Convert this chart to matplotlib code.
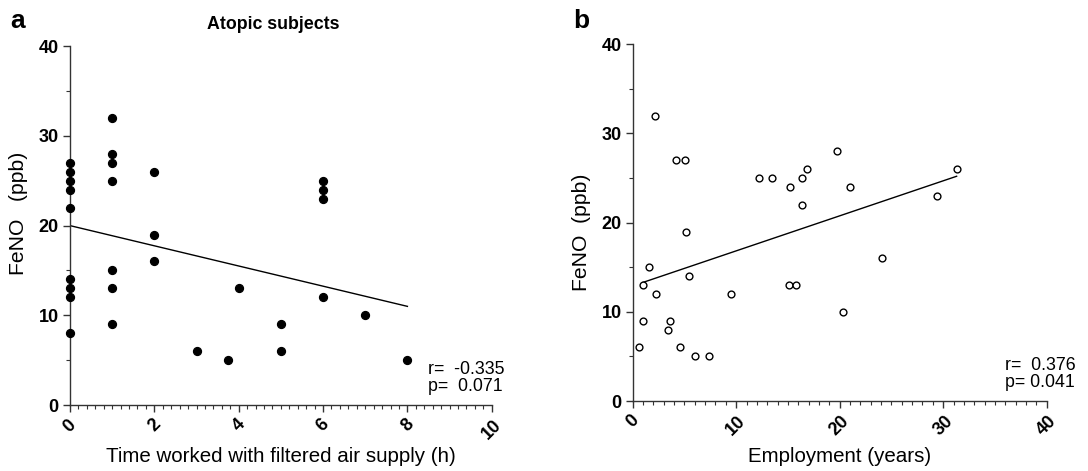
import matplotlib
matplotlib.use("Agg")
import matplotlib.pyplot as plt
from matplotlib.ticker import MultipleLocator

plt.rcParams['font.family'] = ['Liberation Sans', 'DejaVu Sans']

# Panel a: time worked with filtered air supply vs FeNO (atopic subjects)
a_hours = [0, 0, 0, 0, 0, 0, 0, 0, 0,
           1, 1, 1, 1, 1, 1, 1,
           2, 2, 2,
           3, 3.75, 4,
           5, 5,
           6, 6, 6, 6,
           7, 8]
a_feno = [27, 26, 25, 24, 22, 14, 13, 12, 8,
          32, 28, 27, 25, 15, 13, 9,
          26, 19, 16,
          6, 5, 13,
          9, 6,
          25, 24, 23, 12,
          10, 5]
a_fit_x = [0, 8]
a_fit_y = [20, 11]
a_stats = "r=  -0.335\np=  0.071"

# Panel b: employment vs FeNO
b_years = [0.6, 1.0, 1.0, 1.6, 2.2, 2.3, 3.4, 3.6, 4.2, 4.6, 5.1, 5.2, 5.4,
           6.0, 7.4, 9.5, 12.2, 13.5, 15.2, 15.1, 15.8, 16.4, 16.4, 16.8,
           19.7, 20.3, 21.0, 24.1, 29.4, 31.3]
b_feno = [6, 13, 9, 15, 32, 12, 8, 9, 27, 6, 27, 19, 14,
          5, 5, 12, 25, 25, 24, 13, 13, 25, 22, 26,
          28, 10, 24, 16, 23, 26]
b_fit_x = [1.0, 31.3]
b_fit_y = [13.3, 25.2]
b_stats = "r=  0.376\np= 0.041"

fig = plt.figure(figsize=(10.88, 4.71), dpi=100)
axa = fig.add_axes([0.0643, 0.140, 0.3877, 0.762])
axb = fig.add_axes([0.5815, 0.1486, 0.3805, 0.7574])

spine_col = '#333333'

def style(ax, xmax, xmajor, xminor):
    for s in ['top', 'right']:
        ax.spines[s].set_visible(False)
    for s in ['left', 'bottom']:
        ax.spines[s].set_color(spine_col)
        ax.spines[s].set_linewidth(1.0)
    ax.set_xlim(0, xmax)
    ax.set_ylim(0, 40)
    ax.xaxis.set_major_locator(MultipleLocator(xmajor))
    ax.xaxis.set_minor_locator(MultipleLocator(xminor))
    ax.yaxis.set_major_locator(MultipleLocator(10))
    ax.yaxis.set_minor_locator(MultipleLocator(5))
    ax.tick_params(which='major', length=5, width=1.0, color=spine_col,
                   labelsize=13, pad=3)
    ax.tick_params(which='minor', length=3, width=0.8, color=spine_col)
    for lab in ax.get_yticklabels():
        lab.set_fontweight('bold')
    for lab in ax.get_xticklabels():
        lab.set_fontweight('bold')
        lab.set_rotation(45)
        lab.set_ha('center')
    ax.patch.set_alpha(0)

style(axa, 10, 2, 0.2)
style(axb, 40, 10, 1)

axa.scatter(a_hours, a_feno, s=32, c='black', zorder=3, clip_on=False)
axa.plot(a_fit_x, a_fit_y, color='black', lw=1.0)
axa.set_xlabel("Time worked with filtered air supply (h)", fontsize=14.8)
axa.xaxis.set_label_coords(0.5, -0.117)
axa.set_ylabel("FeNO   (ppb)", fontsize=15.2)
axa.yaxis.set_label_coords(-0.100, 0.535)
axa.set_title("Atopic subjects", fontsize=12.8, fontweight='bold', pad=12, x=0.483)
axa.text(8.49, 3.05, a_stats, fontsize=12.8, va='center', ha='left', linespacing=1.0)

axb.scatter(b_years, b_feno, s=24, facecolors='white', edgecolors='black',
            linewidths=1.0, zorder=3, clip_on=False)
axb.plot(b_fit_x, b_fit_y, color='black', lw=1.0)
axb.set_xlabel("Employment (years)", fontsize=14.8)
axb.xaxis.set_label_coords(0.5, -0.129)
axb.set_ylabel("FeNO  (ppb)", fontsize=15.2)
axb.yaxis.set_label_coords(-0.101, 0.474)
axb.text(36.0, 3.05, b_stats, fontsize=12.8, va='center', ha='left', linespacing=1.0)

fig.text(0.0092, 0.955, "a", fontsize=19, fontweight='bold', va='center')
fig.text(0.527, 0.955, "b", fontsize=19, fontweight='bold', va='center')

fig.savefig("out.png", dpi=100)
